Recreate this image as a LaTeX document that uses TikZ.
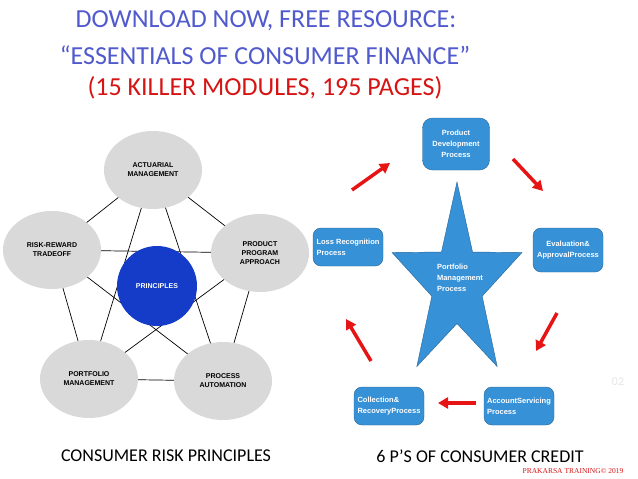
\documentclass[tikz,border=0pt]{standalone}
\usepackage{fontspec}
\setmainfont{Carlito}
\newfontfamily\arialfont{Liberation Sans}
\newfontfamily\timesfont{Liberation Serif}
\usetikzlibrary{shapes.geometric,arrows.meta,backgrounds}

\definecolor{titleblue}{RGB}{80,90,205}
\definecolor{titlered}{RGB}{215,20,20}
\definecolor{circgray}{RGB}{217,217,217}
\definecolor{princblue}{RGB}{20,60,200}
\definecolor{boxblue}{RGB}{55,145,215}
\definecolor{arrowred}{RGB}{230,20,20}

\tikzset{
style1/.style= {ellipse,fill=circgray,minimum width=98pt,minimum height=78pt,inner sep=0pt,align=center,font=\arialfont\bfseries\fontsize{7}{9}\selectfont},
style2/.style= {circle,fill=princblue,minimum size=80pt,inner sep=0pt,text=white,font=\arialfont\bfseries\fontsize{7}{9}\selectfont},
style3/.style= {rectangle,rounded corners=8pt,thin,fill=boxblue,draw=boxblue!70!black,minimum width=70pt,minimum height=38pt,inner sep=2pt,text=white,font=\arialfont\bfseries\fontsize{7.5}{11}\selectfont},
style4/.style= {inner sep=0pt,font=\fontsize{18}{20}\selectfont},
style5/.style= {inner sep=0pt,font=\fontsize{26}{28}\selectfont},
arrow1/.style= {line width=3.5pt,draw=arrowred,-{Triangle[length=10pt,width=11pt]}}
}

\begin{document}
\begin{tikzpicture}[x=1pt,y=1pt]
\useasboundingbox (0,0) rectangle (638,-479);

% title
\node[style5,text=titleblue] (t1) at (266,-21) {DOWNLOAD NOW, FREE RESOURCE:};
\node[style5,text=titleblue] (t2) at (265,-55) {“ESSENTIALS OF CONSUMER FINANCE”};
\node[style5,text=titlered] (t3) at (265,-88) {(15 KILLER MODULES, 195 PAGES)};

% the principles circles
\node[style1] (act) at (153,-170) {ACTUARIAL\\MANAGEMENT};
\node[style1] (risk) at (52,-250) {RISK-REWARD\\TRADEOFF};
\node[style1] (prod) at (260,-253) {PRODUCT\\PROGRAM\\APPROACH};
\node[style1] (port) at (89,-379) {PORTFOLIO\\MANAGEMENT};
\node[style1] (proc) at (223,-381) {PROCESS\\AUTOMATION};
\node[style2] (prin) at (157,-286) {PRINCIPLES};

% lines between the circles, behind them
\begin{scope}[on background layer]
\foreach \a/\b in {act/risk,act/prod,risk/port,prod/proc,port/proc,act/port,act/proc,risk/prod,risk/proc,prod/port}
  \draw[line width=0.7pt] (\a.center) -- (\b.center);
\end{scope}

% the star in the middle
\begin{scope}[shift={(457,-284)},xscale=0.67]
\filldraw[fill=boxblue,draw=boxblue!70!black,thin] (90:102) -- (126:39.5) -- (162:102) -- (198:39.5) -- (234:102) -- (270:39.5) -- (306:102) -- (342:39.5) -- (18:102) -- (54:39.5) -- cycle;
\end{scope}
\node[align=left,inner sep=0pt,text=white,font=\arialfont\bfseries\fontsize{7.5}{11}\selectfont] (star) at (460,-278) {Portfolio\\Management\\Process};

% the process boxes
\node[style3,align=center,minimum width=67pt,minimum height=52pt,rounded corners=10pt] (pdev) at (456,-144) {Product\\Development\\Process};
\node[style3,align=center,minimum height=44pt] (eval) at (568,-250) {Evaluation\&\\ApprovalProcess};
\node[style3,align=left] (loss) at (348,-247) {Loss Recognition\\Process};
\node[style3,align=left] (coll) at (389,-406) {Collection\&\\RecoveryProcess};
\node[style3,align=left] (acct) at (519,-406) {AccountServicing\\Process};

% red arrows round the star
\coordinate (a1) at (352,-190); \coordinate (b1) at (390,-163);
\coordinate (a2) at (513,-159); \coordinate (b2) at (543,-191);
\coordinate (a3) at (557,-313); \coordinate (b3) at (536,-351);
\coordinate (a4) at (476,-403); \coordinate (b4) at (438,-403);
\coordinate (a5) at (371,-361); \coordinate (b5) at (346,-319);
\foreach \value in {1,...,5}
  \draw[arrow1] (a\value) -- (b\value);

% captions
\node[style4] (lbl1) at (166,-456) {CONSUMER RISK PRINCIPLES};
\node[style4] (lbl2) at (480,-456) {6 P’S OF CONSUMER CREDIT};
\node[inner sep=0pt,text=black!10,font=\fontsize{12}{12}\selectfont] (pg) at (618,-382) {02};
\node[inner sep=0pt,text=titlered,font=\timesfont\fontsize{7.5}{8}\selectfont] (copy) at (573,-471) {PRAKARSA TRAINING© 2019};
\end{tikzpicture}
\end{document}
